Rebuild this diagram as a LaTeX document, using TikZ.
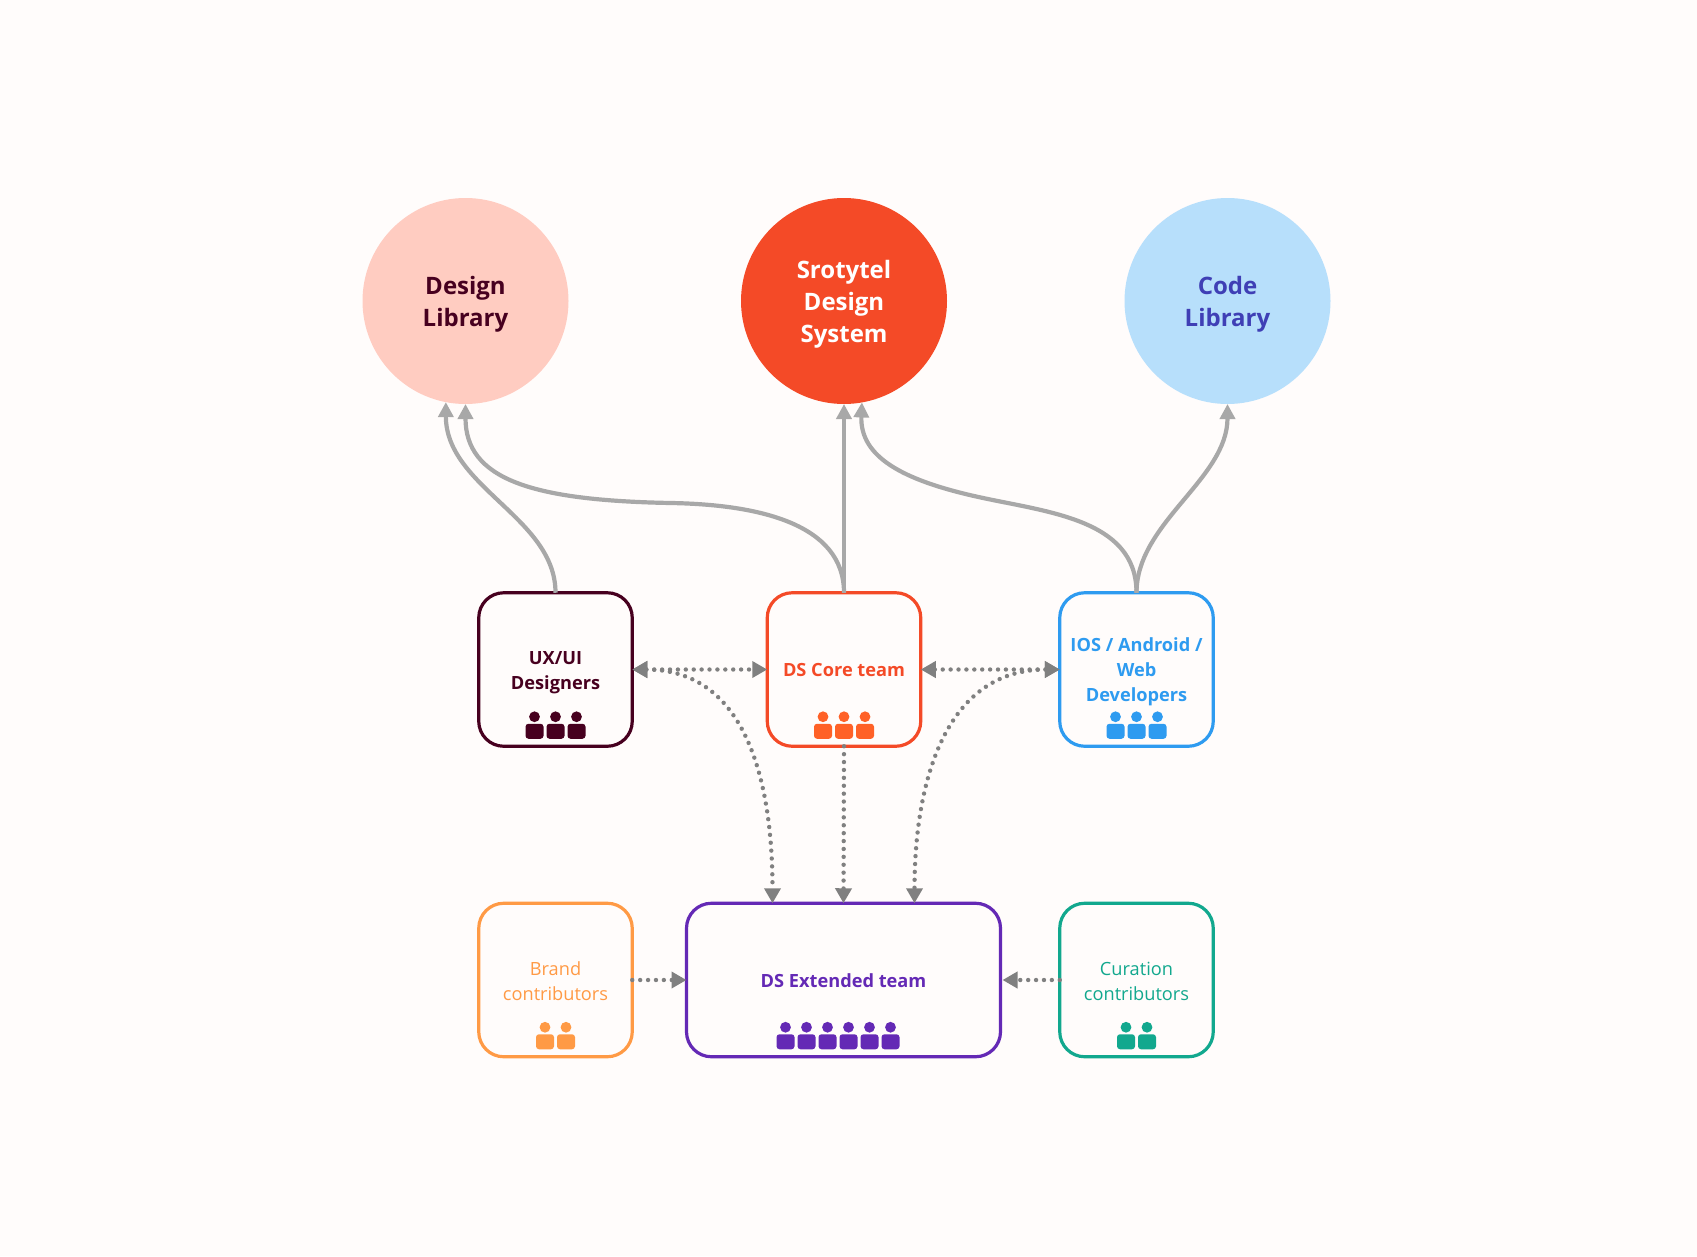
\documentclass[tikz,border=0pt]{standalone}
\usepackage{fontspec}
\setmainfont{Open Sans}
\usetikzlibrary{arrows.meta}
\definecolor{paper}{HTML}{FFFCFB}
\definecolor{wine}{HTML}{47001F}
\definecolor{coreorange}{HTML}{F44A27}
\definecolor{iconorange}{HTML}{FF6127}
\definecolor{devblue}{HTML}{2E9BF0}
\definecolor{extpurple}{HTML}{6429B5}
\definecolor{brandorange}{HTML}{FF9A45}
\definecolor{curegreen}{HTML}{12A88E}
\definecolor{libpink}{HTML}{FFCCC1}
\definecolor{libblue}{HTML}{B7DFFB}
\definecolor{libindigo}{HTML}{3F3FB5}
\definecolor{upgray}{HTML}{A8A8A8}
\definecolor{dotgray}{HTML}{808080}
\tikzset{
  lib/.style={circle,minimum size=206pt,inner sep=0pt,outer sep=0pt,align=center,
    font=\fontsize{24}{32}\selectfont\bfseries},
  team/.style={draw=#1,text=#1,rounded corners=25pt,line width=3.2pt,fill=paper,
    minimum width=153.5pt,minimum height=153.5pt,inner sep=0pt,outer sep=0pt,align=center,
    font=\fontsize{18.2}{25}\selectfont\bfseries},
  crew/.style={team=#1,font=\fontsize{18.2}{25}\selectfont},
  textdrop/.style={execute at begin node={\rule{0pt}{#1}}},
  upline/.style={draw=upgray,line width=4.2pt,-{Triangle[length=15pt,width=15pt,fill=upgray]}},
  dotline/.style={draw=dotgray,line width=4.4pt,line cap=round,dash pattern=on 0pt off 7.9pt,
    -{Triangle[length=15pt,width=16pt,fill=dotgray]}},
  twodot/.style={dotline,{Triangle[length=15pt,width=16pt,fill=dotgray]}-{Triangle[length=15pt,width=16pt,fill=dotgray]}},
  pics/member/.style={code={
    \fill[#1] (0,-22) circle (5.4pt);
    \fill[#1,rounded corners=3pt] (-9,-15) rectangle (9,0);
  }},
}
\begin{document}
\begin{tikzpicture}[x=1pt,y=-1pt]  % ------ bounding box in pixels of the reference -----------
  \useasboundingbox[fill=paper] (0,0) rectangle (1697,1256);
  % libraries
  \node[lib,fill=libpink,text=wine,textdrop=56.2pt] (design) at (465.5,301) {Design\\Library};
  \node[lib,fill=coreorange,text=white,textdrop=88.2pt] (system) at (844,301) {Srotytel\\Design\\System};
  \node[lib,fill=libblue,text=libindigo,textdrop=56.2pt] (code) at (1227.5,301) {Code\\Library};
  % teams
  \node[team=wine,textdrop=44pt] (ux) at (555.5,669.5) {UX/UI\\Designers};
  \node[team=coreorange] (core) at (844,669.5) {DS Core team};
  \node[team=devblue,textdrop=68pt] (dev) at (1136.5,669.5) {IOS / Android /\\Web\\Developers};
  \node[crew=brandorange,textdrop=42pt] (brand) at (555.5,980) {Brand\\contributors};
  \node[team=extpurple,minimum width=314pt,textdrop=16pt] (ext) at (843.5,980) {DS Extended team};
  \node[crew=curegreen,textdrop=42pt] (cure) at (1136.5,980) {Curation\\contributors};
  % people
  \foreach \i in {-1,0,1} {
    \pic at ([xshift=21*\i pt,yshift=7.5pt]ux.south) {member=wine};
    \pic at ([xshift=21*\i pt,yshift=7.5pt]core.south) {member=iconorange};
    \pic at ([xshift=21*\i pt,yshift=7.5pt]dev.south) {member=devblue};
  }
  \foreach \i in {-.5,.5} {
    \pic at ([xshift=21*\i pt,yshift=7.5pt]brand.south) {member=brandorange};
    \pic at ([xshift=21*\i pt,yshift=7.5pt]cure.south) {member=curegreen};
  }
  \foreach \i in {-2.5,-1.5,-.5,.5,1.5,2.5}
    \pic at ([xshift=21*\i pt-5.5pt,yshift=7.5pt]ext.south) {member=extpurple};
  % solid arrows up to the libraries
  \coordinate (uxdl) at (671,503);
  \coordinate (devsys) at (974,496);
  \draw[upline] (ux.north) .. controls +(0,-75) and +(0,85) .. (design.259);
  \draw[upline] (core.north) .. controls +(0,-70) and +(85,1.5) .. (uxdl)
     .. controls +(-140,-2.5) and +(0,75) .. (design.270);
  \draw[upline] (core.north) -- (system.270);
  \draw[upline] (dev.north) .. controls +(0,-75) and +(70,16) .. (devsys)
     .. controls +(-70,-16) and +(-2,55) .. (system.280);
  \draw[upline] (dev.north) .. controls +(0,-70) and +(0,75) .. (code.270);
  % dotted links
  \draw[twodot] (ux.east) -- (core.west);
  \draw[twodot] (core.east) -- (dev.west);
  \draw[twodot] (ux.east) .. controls +(110,0) and +(0,-130) .. ([xshift=-71pt]ext.north);
  \draw[twodot] (dev.west) .. controls +(-110,0) and +(0,-130) .. ([xshift=71pt]ext.north);
  \draw[dotline] (core.south) -- (ext.north);
  \draw[dotline] (brand.east) -- (ext.west);
  \draw[dotline,shorten >=2pt] (cure.west) -- (ext.east);
\end{tikzpicture}
\end{document}
